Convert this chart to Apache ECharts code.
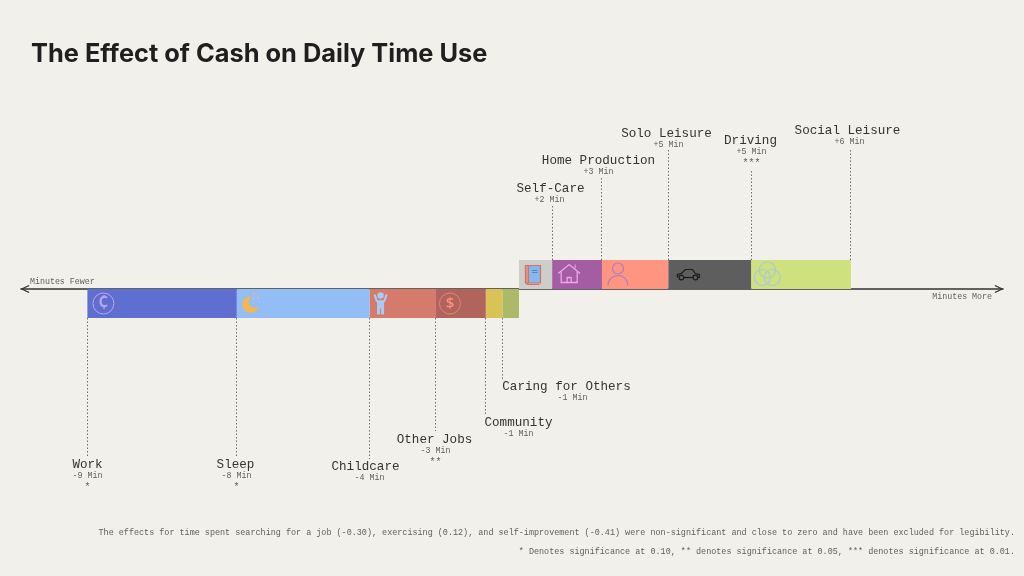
<!DOCTYPE html>
<html><head><meta charset="utf-8">
<style>html,body{margin:0;padding:0;background:#F2F0EB}#c{width:1024px;height:576px}</style>
<script src="https://cdn.jsdelivr.net/npm/echarts@6/dist/echarts.min.js"></script>
</head><body><div id="c"></div>
<script>
// Data -----------------------------------------------------------------
var fewerNames  = ['Caring for Others','Community','Other Jobs','Childcare','Sleep','Work'];
var fewerValues = [-1,-1,-3,-4,-8,-9];
var fewerLabels = ['-1 Min','-1 Min','-3 Min','-4 Min','-8 Min','-9 Min'];
var fewerStars  = ['','','**','','*','*'];
var moreNames   = ['Self-Care','Home Production','Solo Leisure','Driving','Social Leisure'];
var moreValues  = [2,3,4,5,6];
var moreLabels  = ['+2 Min','+3 Min','+5 Min','+5 Min','+6 Min'];
var moreStars   = ['','','','***',''];
var rows = ['fewer','more'];

// Styles and layout, separate from data ---------------------------------
var BG='#F2F0EB', INK='#333333', SUB='#5E5E5E';
var MONO='"Liberation Mono","DejaVu Sans Mono",monospace';
var colors = {
  'Caring for Others':'#ABB968','Community':'#D9C356','Other Jobs':'#B0645C','Childcare':'#D47B6B',
  'Sleep':'#93BDF5','Work':'#5F6FCF','Self-Care':'#CDCDCB','Home Production':'#A45CA3',
  'Solo Leisure':'#FF9580','Driving':'#5E5E5E','Social Leisure':'#CFE17E'
};
// leader end y, name y, name x offset, sub x offset
var labelLayout = {
  'Work':[456,465,0,0],'Sleep':[456,465,-1,0],'Childcare':[459,467,-4,0],'Other Jobs':[431,440,-1,0],
  'Community':[414,423,33,33],'Caring for Others':[380,387,64,70],
  'Self-Care':[204,189,-2,-3],'Home Production':[177,161,-3,-3],'Solo Leisure':[148,134,-2,0],
  'Driving':[169,141,-1,0],'Social Leisure':[148,131,-3,-1]
};
var iconFor = {
  'Work':['coinC',16,0],'Sleep':['moon',14,0],'Childcare':['child',11,0],'Other Jobs':['coinD',14,0],
  'Self-Care':['book',14,0],'Home Production':['house',17,0],'Solo Leisure':['person',16,0],
  'Driving':['car',20,0],'Social Leisure':['rings',16,0]
};

function circle(cx,cy,r,stroke,fill,lw){return {type:'circle',shape:{cx:cx,cy:cy,r:r},style:{stroke:stroke||null,fill:fill||'none',lineWidth:lw||1}};}
function line(points,stroke,lw){return {type:'polyline',shape:{points:points},style:{stroke:stroke,fill:'none',lineWidth:lw||1}};}
function rect(x,y,w,h,stroke,fill,lw){return {type:'rect',shape:{x:x,y:y,width:w,height:h},style:{stroke:stroke||null,fill:fill||'none',lineWidth:lw||1}};}
function glyph(t,color,size){return {type:'text',style:{text:t,x:0,y:0,textAlign:'center',textVerticalAlign:'middle',font:'600 '+size+'px "Open Sans",sans-serif',fill:color}};}
var icons = {
  coinC:function(){return [circle(0,0,10.5,'#B9A6EE',null,1),glyph('¢','#B9A6EE',19)];},
  coinD:function(){return [circle(0,0,10.5,'#E88373',null,1),glyph('$','#FF8F7F',15)];},
  moon:function(){return [circle(0,1,8.5,null,'#F4B650'),circle(5,-2.5,7,null,'#93BDF5'),circle(3,-10,1.1,null,'#D9C08A'),circle(7,-6,1.1,null,'#E7C27A'),circle(2.5,-5,0.9,null,'#E7C27A')];},
  child:function(){return [circle(0,-8,3.2,null,'#A9CCF4'),
    line([[-6,-9],[-4,-3],[-3,-2],[3,-2],[4,-3],[6,-9]],'#A9CCF4',2.2),
    rect(-3.5,-3,7,8,null,'#A9CCF4'),rect(-3.5,4,3,7,null,'#A9CCF4'),rect(0.5,4,3,7,null,'#A9CCF4')];},
  book:function(){var r='#D9705F';return [rect(-7.5,-9,15,17.5,r,'#85B8EE',1.2),rect(-7.5,-9,3,17.5,r,'#D99488',1),
    line([[-1,-4],[4.5,-4]],'#5E86B8',1),line([[-1,-2],[4.5,-2]],'#5E86B8',1),line([[-6.5,10],[6.5,10]],r,1)];},
  house:function(){var c='#EFA6E6';return [line([[-11,-1],[0,-10],[11,-1]],c,1.3),line([[-8,-3],[-8,8],[8,8],[8,-3]],c,1.3),
    line([[-2,8],[-2,3],[2,3],[2,8]],c,1.3),line([[6,-6],[6,-10]],c,1)];},
  person:function(){var c='#A77FC4';return [circle(0,-6,5.5,c,null,1.2),{type:'arc',shape:{cx:0,cy:11,r:10,startAngle:Math.PI,endAngle:2*Math.PI,clockwise:true},style:{stroke:c,fill:'none',lineWidth:1.2}}];},
  car:function(){var c='#1A1A1A';return [line([[-11,3],[-11,0],[-7,-1],[-3,-5],[4,-5],[7,-1],[11,0],[11,3],[9.5,3]],c,1.2),line([[-4.5,3],[4.5,3]],c,1.2),
    circle(-7,3,2.4,c,null,1.2),circle(7,3,2.4,c,null,1.2)];},
  rings:function(){var c='#A9C8DC';return [circle(0,-4.5,8,c,null,1.2),circle(-5,3,8,c,null,1.2),circle(5,3,8,c,null,1.2)];}
};

// Series ----------------------------------------------------------------
var series = [];
fewerNames.forEach(function(n,i){
  series.push({name:n,type:'bar',stack:'t',data:[fewerValues[i],null],barWidth:'100%',barCategoryGap:0,silent:true,itemStyle:{color:colors[n]}});
});
moreNames.forEach(function(n,i){
  series.push({name:n,type:'bar',stack:'t',data:[null,moreValues[i]],barWidth:'100%',barCategoryGap:0,silent:true,itemStyle:{color:colors[n]}});
});

// Bar edges (row, start, end, name, value label, stars) follow from the values
var marks = [], run = 0;
fewerNames.forEach(function(n,i){marks.push([run+fewerValues[i],run,0,n,fewerLabels[i],fewerStars[i]]);run+=fewerValues[i];});
run = 0;
moreNames.forEach(function(n,i){marks.push([run+moreValues[i],run,1,n,moreLabels[i],moreStars[i]]);run+=moreValues[i];});

series.push({
  type:'custom',silent:true,z:5,clip:false,data:marks,
  encode:{x:0,y:2},
  renderItem:function(p,api){
    var d=marks[p.dataIndex], row=d[2], name=d[3];
    var edge=api.coord([d[0],row]);
    var c=edge[1], ls=labelLayout[name], x=Math.floor(edge[0])+0.5;
    var barEdgeY = row===1 ? c-14.5 : c+14.5;
    var kids=[{type:'line',shape:{x1:x,y1:barEdgeY,x2:x,y2:ls[0]},style:{stroke:'#6E6E6E',lineWidth:1,lineDash:[1.5,2]}}];
    var y=ls[1];
    kids.push({type:'text',style:{text:name,x:x+ls[2],y:y,textAlign:'center',textVerticalAlign:'middle',font:'12.6px '+MONO,fill:INK}});
    kids.push({type:'text',style:{text:d[4],x:x+ls[3],y:y+11,textAlign:'center',textVerticalAlign:'middle',font:'8.3px '+MONO,fill:SUB}});
    if(d[5]) kids.push({type:'text',style:{text:d[5],x:x+ls[3],y:y+22,textAlign:'center',textVerticalAlign:'middle',font:'10px '+MONO,fill:SUB}});
    var ic=iconFor[name];
    if(ic){
      var left=api.coord([Math.min(d[0],d[1]),row])[0];
      kids.push({type:'group',x:left+ic[1],y:c+ic[2],children:icons[ic[0]]()});
    }
    return {type:'group',children:kids};
  }
});

var chart = echarts.init(document.getElementById('c'),null,{renderer:'canvas'});
chart.setOption({
  animation:false,
  backgroundColor:BG,
  title:{text:'The Effect of Cash on Daily Time Use',left:26,top:37,textStyle:{fontFamily:'Inter,"Open Sans",sans-serif',fontWeight:700,fontSize:25.4,color:'#1F1F1F'}},
  grid:{left:21,right:21,top:260,height:58,containLabel:false},
  xAxis:{type:'value',min:-30,max:29.16,position:'bottom',offset:-29,
    splitLine:{show:false},axisTick:{show:false},axisLabel:{show:false},
    axisLine:{show:true,symbol:['path://M0 10 L5 0 L10 10 L8.8 11 L5 3 L1.2 11 Z','path://M0 10 L5 0 L10 10 L8.8 11 L5 3 L1.2 11 Z'],symbolSize:[11,9],symbolOffset:[4,-4],lineStyle:{color:'#333',width:1.5}}},
  yAxis:{type:'category',data:rows,show:false},
  graphic:[
    {type:'text',left:30,top:278,silent:true,style:{text:'Minutes Fewer',font:'8.3px '+MONO,fill:SUB}},
    {type:'text',right:32,top:293,silent:true,style:{text:'Minutes More',font:'8.3px '+MONO,fill:SUB}},
    {type:'text',right:9,top:529,silent:true,style:{text:'The effects for time spent searching for a job (-0.30), exercising (0.12), and self-improvement (-0.41) were non-significant and close to zero and have been excluded for legibility.',font:'8.45px '+MONO,fill:SUB}},
    {type:'text',right:9,top:548,silent:true,style:{text:'* Denotes significance at 0.10, ** denotes significance at 0.05, *** denotes significance at 0.01.',font:'8.45px '+MONO,fill:SUB}}
  ],
  series:series
});
</script></body></html>
